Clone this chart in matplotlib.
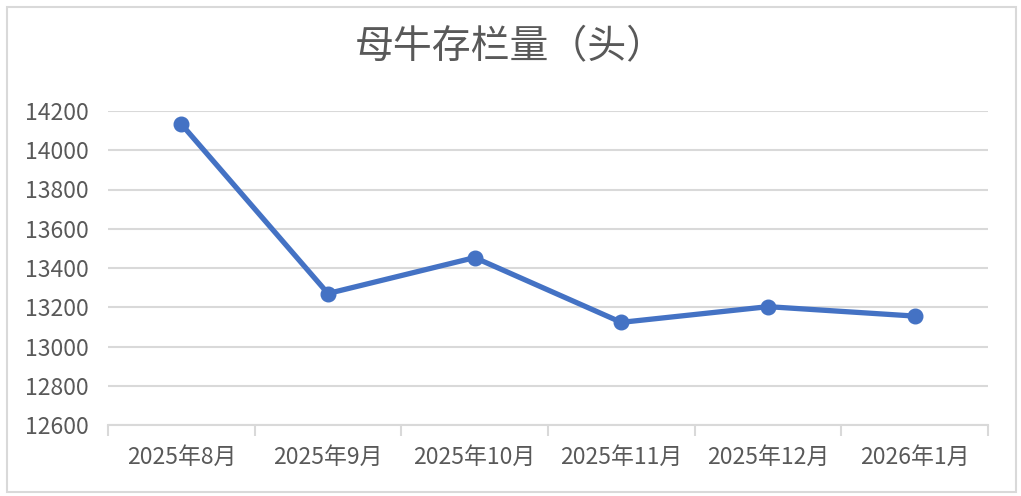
import matplotlib
matplotlib.use("Agg")
import matplotlib.pyplot as plt
from matplotlib.patches import Rectangle

plt.rcParams['font.family'] = ['Noto Sans CJK SC', 'DejaVu Sans']

title = "母牛存栏量（头）"
categories = ["2025年8月", "2025年9月", "2025年10月", "2025年11月", "2025年12月", "2026年1月"]
values = [14133, 13270, 13453, 13123, 13203, 13155]
y_ticks = [12600, 12800, 13000, 13200, 13400, 13600, 13800, 14000, 14200]

fig = plt.figure(figsize=(10.21, 4.96), dpi=100)
fig.patch.set_facecolor("white")
fig.patches.append(Rectangle((7/1021, 1-492/496), (1016-7)/1021, (492-7)/496,
                             transform=fig.transFigure, fill=False,
                             edgecolor="#D9D9D9", linewidth=1.5))

ax = fig.add_axes([108/1021, 1-425/496, (988-108)/1021, (425-111)/496])
x = list(range(len(categories)))
ax.plot(x, values, color="#4472C4", linewidth=3.8, marker="o", markersize=10.5,
        solid_capstyle="round", zorder=3, clip_on=False)

ax.set_xlim(-0.5, len(categories) - 0.5)
ax.set_ylim(y_ticks[0], y_ticks[-1])
ax.set_yticks(y_ticks)
ax.set_yticklabels([str(v) for v in y_ticks])
ax.grid(axis="y", color="#D9D9D9", linewidth=1.5)
ax.set_axisbelow(True)

for s in ["left", "right", "top"]:
    ax.spines[s].set_visible(False)
ax.spines["bottom"].set_color("#D9D9D9")
ax.spines["bottom"].set_linewidth(1.5)

ax.set_xticks([i - 0.5 for i in range(len(categories) + 1)], minor=False)
ax.set_xticklabels([])
ax.tick_params(axis="x", which="major", length=8, width=1.5, color="#D9D9D9", direction="out")
ax.set_xticks(x, minor=True)
ax.set_xticklabels(categories, minor=True)
ax.tick_params(axis="x", which="minor", length=0, pad=15, labelsize=16.5, labelcolor="#595959")
ax.tick_params(axis="y", length=0, pad=14, labelsize=16.5, labelcolor="#595959")

fig.text(0.5, 1-47/496, title, ha="center", va="center", fontsize=28,
         color="#595959", fontweight="light")

fig.savefig("out.png", dpi=100)
